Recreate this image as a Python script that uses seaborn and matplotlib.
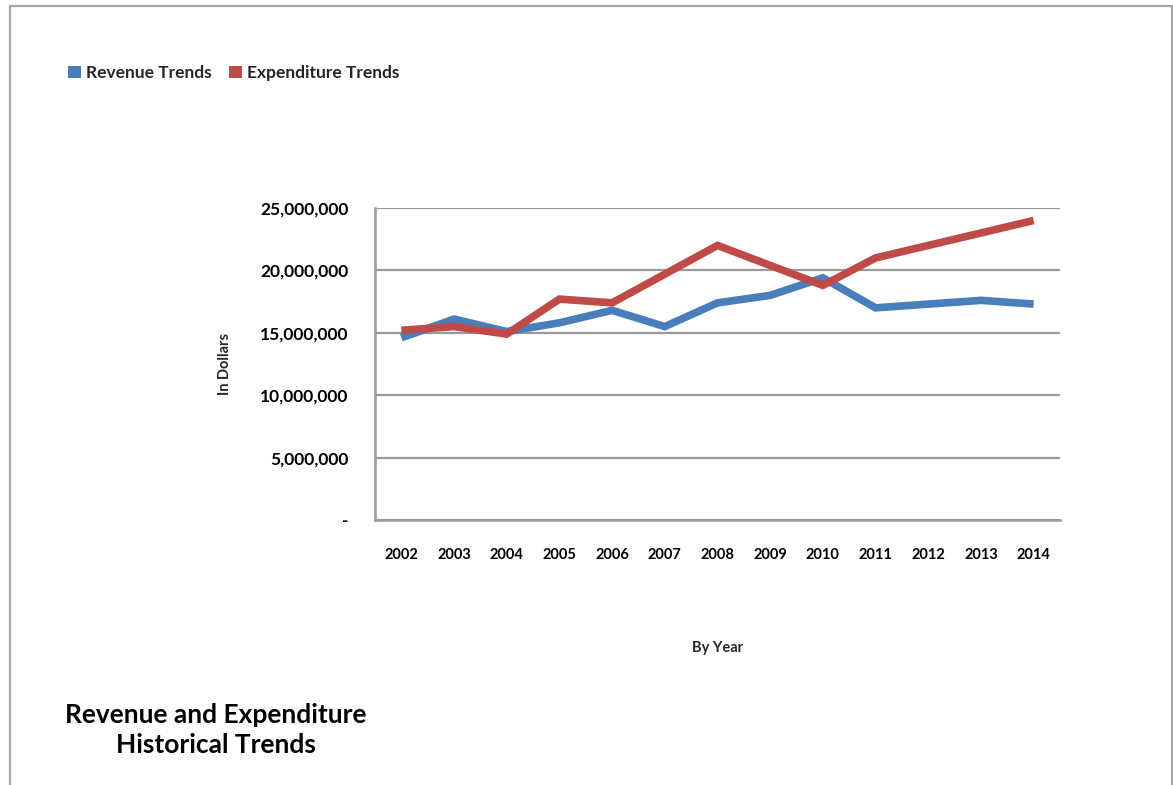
import matplotlib
matplotlib.use("Agg")
import matplotlib.pyplot as plt
import matplotlib.ticker as mticker
from matplotlib.patches import Patch
from matplotlib.lines import Line2D
import seaborn as sns
import pandas as pd

# ---- data (in dollars) ----
years = [2002, 2003, 2004, 2005, 2006, 2007, 2008, 2009, 2010, 2011, 2012, 2013, 2014]
revenue = [14.6e6, 16.1e6, 15.1e6, 15.8e6, 16.8e6, 15.5e6, 17.4e6, 18.0e6, 19.4e6,
           17.0e6, 17.3e6, 17.6e6, 17.3e6]
expenditure = [15.2e6, 15.5e6, 14.9e6, 17.7e6, 17.4e6, 19.7e6, 22.0e6, 20.4e6, 18.8e6,
               21.0e6, 22.0e6, 23.0e6, 24.0e6]
series_names = ["Revenue Trends", "Expenditure Trends"]
colors = ["#4A7EBB", "#BE4B48"]
y_ticks = [0, 5e6, 10e6, 15e6, 20e6, 25e6]

df = pd.concat([
    pd.DataFrame({"Year": years, "Value": revenue, "Series": series_names[0]}),
    pd.DataFrame({"Year": years, "Value": expenditure, "Series": series_names[1]}),
])

sns.set_theme(style="white")
plt.rcParams["font.family"] = ["Lato", "DejaVu Sans"]
plt.rcParams["font.weight"] = "bold"

W, H = 1173, 785
fig = plt.figure(figsize=(W / 100, H / 100), dpi=100)
ax = fig.add_axes([375 / W, 1 - 520 / H, 685 / W, 312 / H])

sns.lineplot(data=df, x="Year", y="Value", hue="Series", palette=colors,
             hue_order=series_names, linewidth=5.5, ax=ax, legend=False,
             solid_capstyle="butt", solid_joinstyle="miter")

ax.set_xlim(years[0] - 0.5, years[-1] + 0.5)
ax.set_ylim(0, 25e6)
ax.set_yticks(y_ticks)
ax.yaxis.set_major_formatter(mticker.FuncFormatter(lambda v, p: "-" if v == 0 else f"{v:,.0f}"))
ax.set_xticks(years)
ax.set_xticklabels([str(y) for y in years])

ax.grid(axis="y", color="#9A9A9A", linewidth=1.6)
ax.grid(axis="x", visible=False)
ax.set_axisbelow(True)
for side in ["top", "right"]:
    ax.spines[side].set_visible(False)
for side in ["left", "bottom"]:
    ax.spines[side].set_color("#9A9A9A")
    ax.spines[side].set_linewidth(1.8)

ax.tick_params(axis="y", which="major", length=5, color="#9A9A9A", width=1.2,
               labelsize=12.5, pad=14)
ax.tick_params(axis="x", which="major", length=4, color="#9A9A9A", width=1.2,
               labelsize=10.5, pad=16)
for lbl in ax.get_yticklabels() + ax.get_xticklabels():
    lbl.set_fontweight("bold")
    lbl.set_color("black")

ax.set_xlabel("By Year", fontsize=10.5, fontweight="bold", labelpad=57)
ax.set_ylabel("In Dollars", fontsize=10.5, fontweight="bold", labelpad=20)

# legend
handles = [Patch(facecolor=c, edgecolor="none") for c in colors]
fig.legend(handles, series_names, loc="center left", bbox_to_anchor=(52 / W, 1 - 73 / H),
           ncol=2, frameon=False, prop={"weight": "bold", "size": 12.5},
           handlelength=0.75, handleheight=0.75, handletextpad=0.3, columnspacing=1.0)

# title
fig.text(216 / W, 1 - 730 / H, "Revenue and Expenditure\nHistorical Trends",
         ha="center", va="center", fontsize=19, fontweight="bold",
         linespacing=1.3, color="black")

# outer chart border
border_kw = dict(color="#A6A6A6", linewidth=1.6, transform=fig.transFigure)
fig.add_artist(Line2D([10 / W, 10 / W], [0, 1 - 6 / H], **border_kw))
fig.add_artist(Line2D([10 / W, 1171.5 / W], [1 - 6 / H, 1 - 6 / H], **border_kw))
fig.add_artist(Line2D([1171.5 / W, 1171.5 / W], [0, 1 - 6 / H], **border_kw))

fig.savefig("out.png", dpi=100, facecolor="white")
